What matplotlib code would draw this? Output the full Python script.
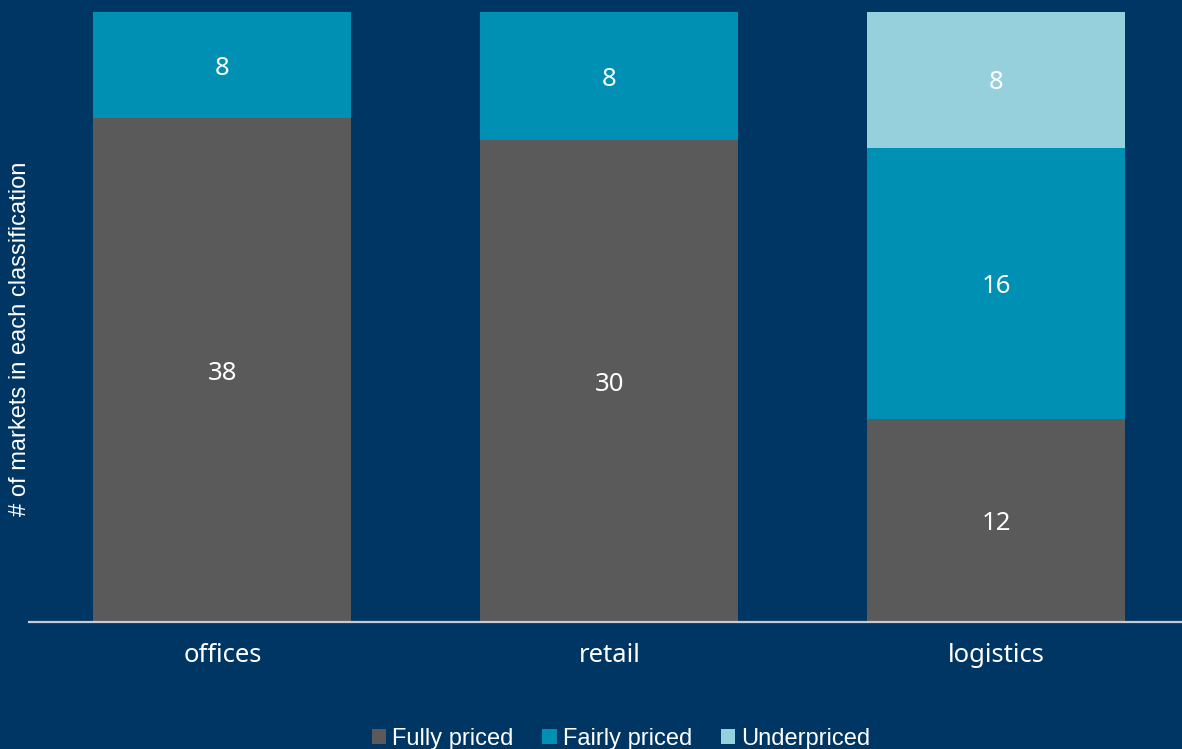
import matplotlib
matplotlib.use('Agg')
import numpy as np
import matplotlib.pyplot as plt

# data: number of markets per classification
categories = ['offices', 'retail', 'logistics']
series_names = ['Fully priced', 'Fairly priced', 'Underpriced']
fully = [38, 30, 12]
fairly = [8, 8, 16]
under = [0, 0, 8]

colors = ['#5a5a5a', '#0090b3', '#96d0dc']
bg = '#003663'

counts = np.array([fully, fairly, under], dtype=float)
shares = counts / counts.sum(axis=0) * 100  # 100% stacked

W, H = 1182, 749
fig = plt.figure(figsize=(W / 100, H / 100), dpi=100, facecolor=bg)
ax = fig.add_axes([29 / W, 1 - 622 / H, (1182 - 29) / W, (622 - 12) / H])
ax.set_facecolor(bg)

x = np.arange(len(categories))
bottom = np.zeros(len(categories))
for i, name in enumerate(series_names):
    ax.bar(x, shares[i], 0.667, bottom=bottom, color=colors[i], label=name)
    for j in range(len(categories)):
        if counts[i, j] > 0:
            ax.text(x[j], bottom[j] + shares[i, j] / 2, str(int(counts[i, j])),
                    ha='center', va='center_baseline', color='white', fontsize=18.5,
                    family='Noto Sans')
    bottom += shares[i]

ax.set_xlim(-0.5, 2.48)
ax.set_ylim(0, 100)
for s in ['top', 'right', 'left']:
    ax.spines[s].set_visible(False)
ax.spines['bottom'].set_color('#c8ccd2')
ax.spines['bottom'].set_linewidth(1.6)
ax.set_yticks([])
ax.set_xticks(x)
ax.set_xticklabels(categories, color='white', fontsize=18.5, family='Noto Sans')
ax.tick_params(axis='x', length=0, pad=15)

fig.text(20 / W, 1 - 339 / H, '# of markets in each classification', rotation=90,
         ha='center', va='center', color='white', fontsize=17,
         family='Liberation Sans')

fig.legend(loc='center', bbox_to_anchor=(621 / W, 1 - 739 / H), ncol=3,
           frameon=False, handlelength=0.6, handleheight=0.6, handletextpad=0.25,
           columnspacing=1.25,
           prop={'family': 'Liberation Sans', 'size': 17},
           labelcolor='white')

fig.savefig('out.png', dpi=100, facecolor=bg)
